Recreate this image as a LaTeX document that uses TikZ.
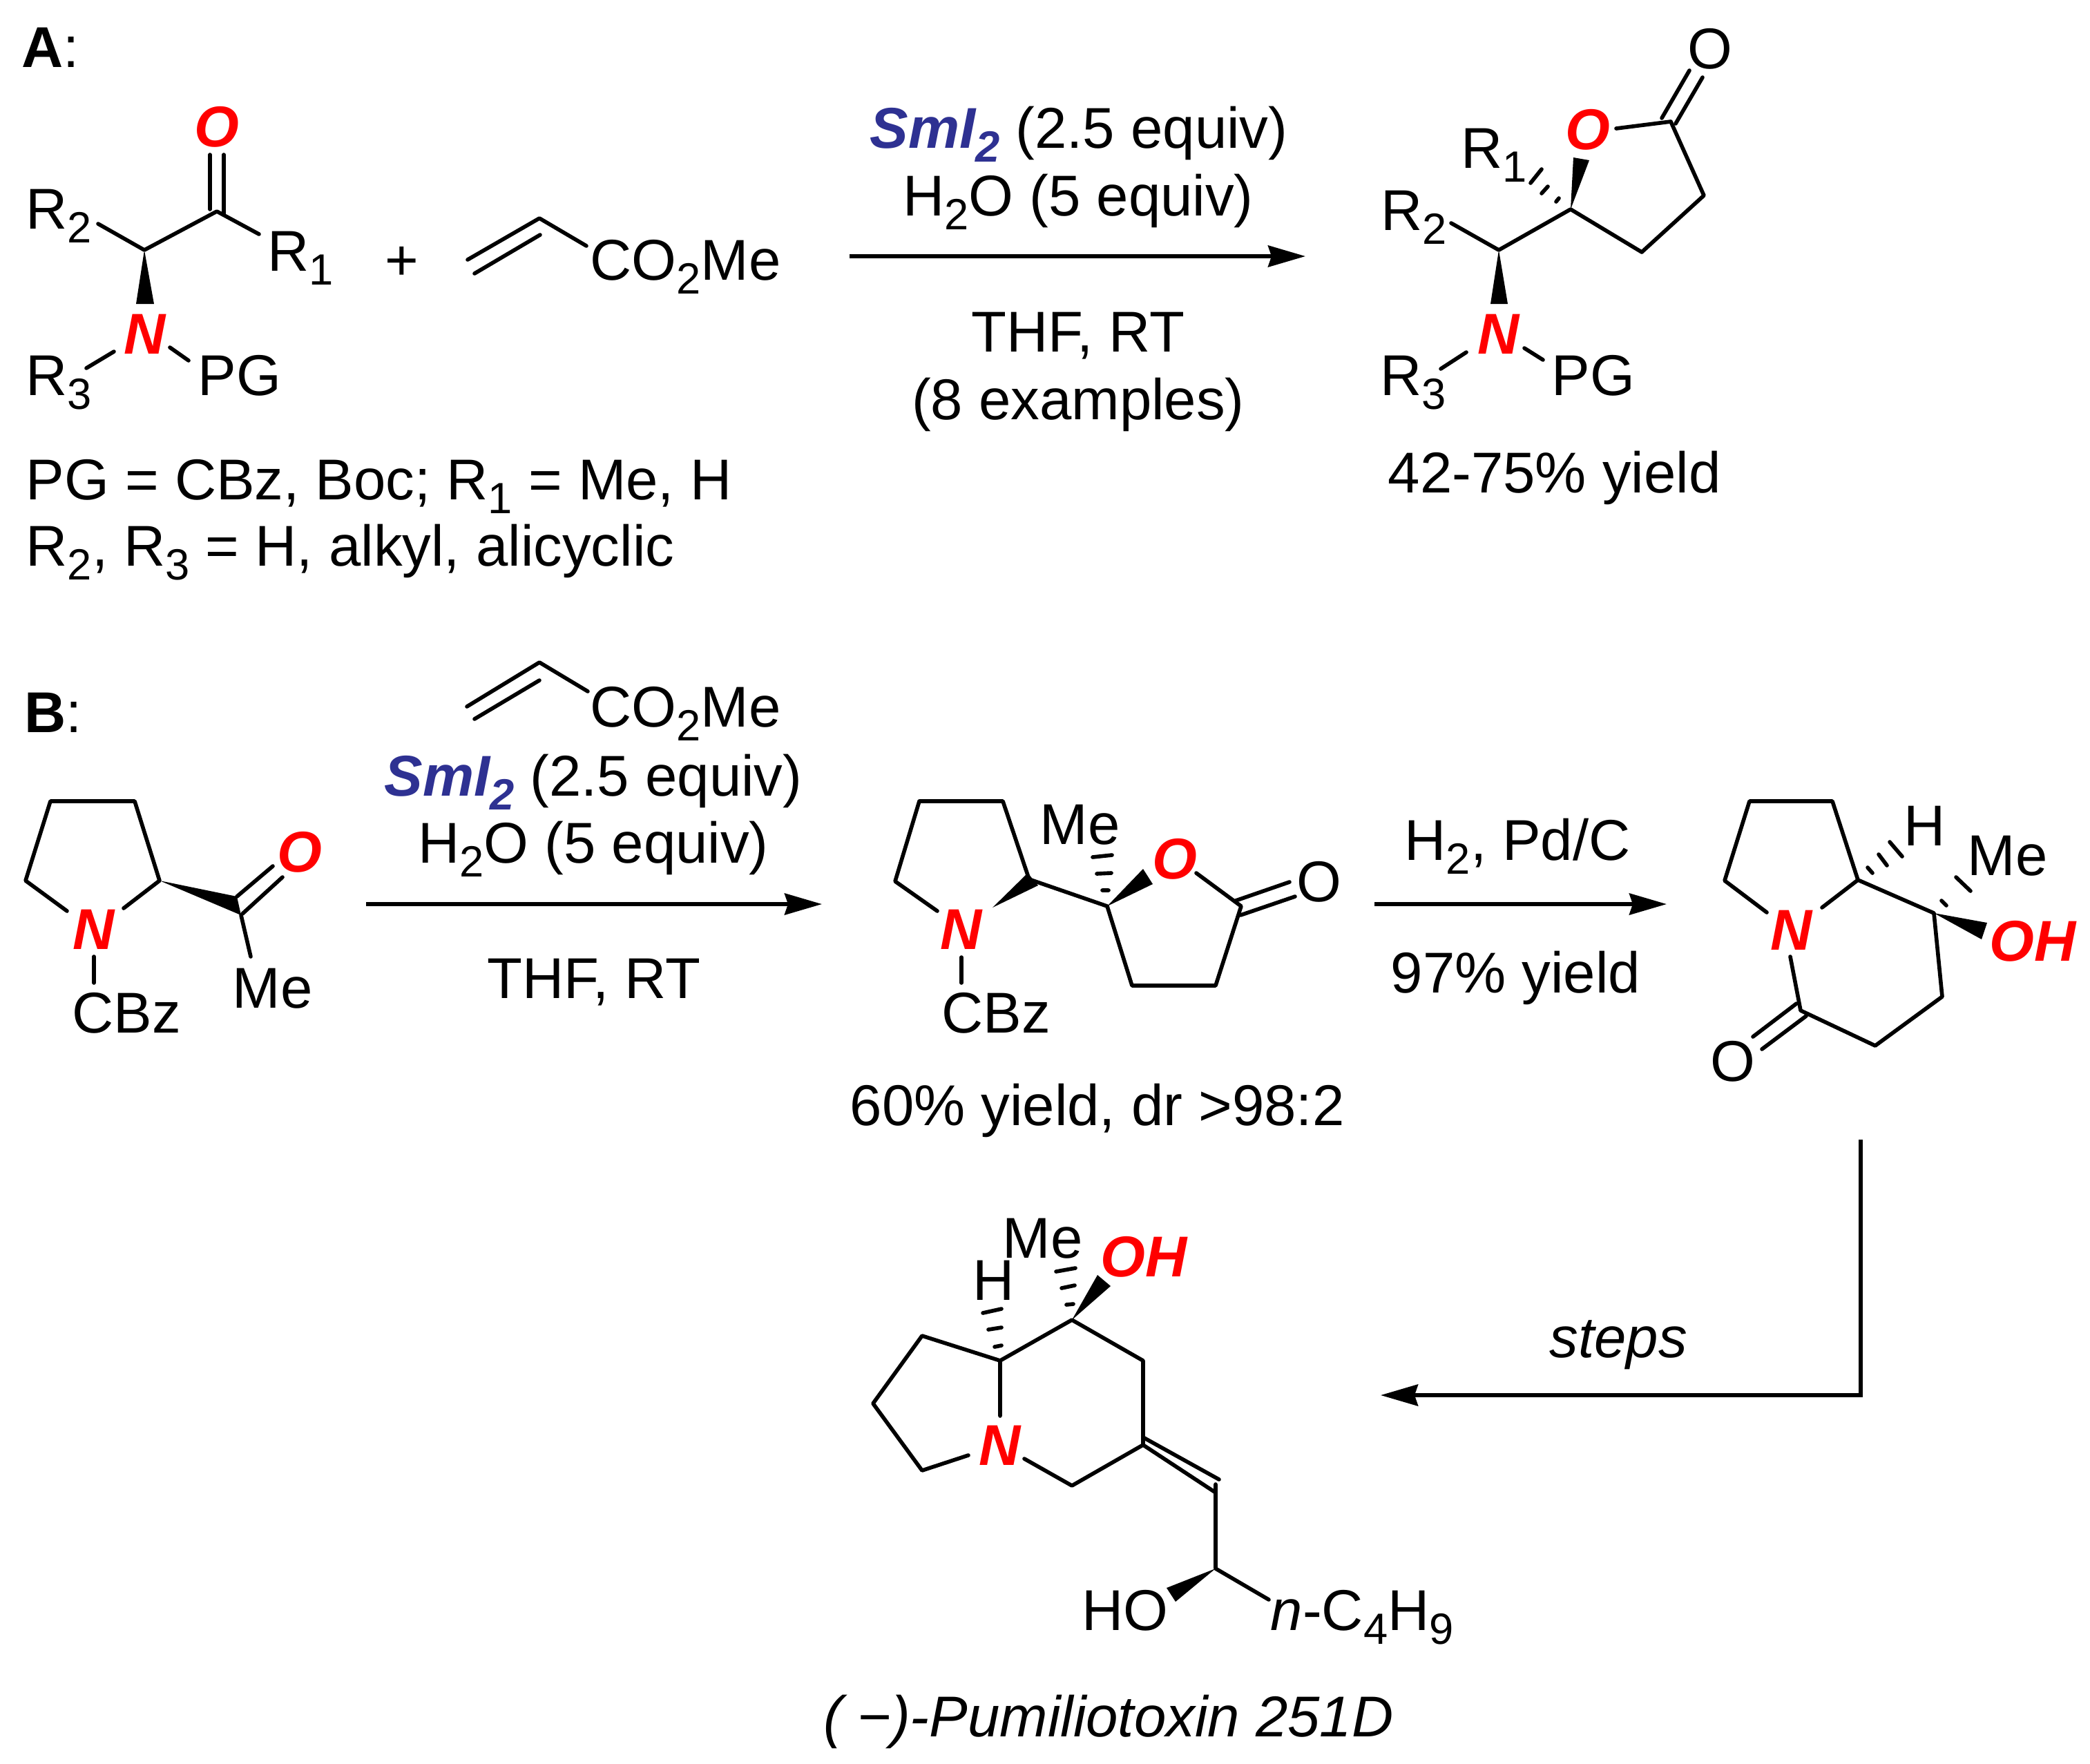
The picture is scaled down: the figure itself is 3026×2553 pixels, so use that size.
\documentclass[tikz,border=0pt]{standalone}
\usepackage{fontspec}
\setmainfont{Liberation Sans}
\usetikzlibrary{arrows.meta}
\definecolor{atomred}{RGB}{255, 0, 0}
\definecolor{smblue}{RGB}{46, 49, 146}
\newcommand{\subsc}[1]{\raisebox{-0.25em}{\fontsize{18}{20}\selectfont #1}}
\newcommand{\atomlbl}[1]{\textcolor{atomred}{\bfseries\itshape #1}}
\newcommand{\smtext}{\textcolor{smblue}{\bfseries\itshape SmI\subsc{2}}}
\tikzset{
  txt/.style={inner sep=0pt, font=\fontsize{23.7}{28}\selectfont},
  lbl/.style={txt, anchor=base west, xshift=-0.05cm},
  ctr/.style={txt, anchor=base},
  bond/.style={line width=1.6pt, line cap=round, line join=round},
  wedge/.style={fill=black, draw=none},
  rxn/.style={line width=1.45pt, -{Stealth[length=0.54cm, width=0.31cm, inset=0.05cm]}}
}

\begin{document}
\begin{tikzpicture}[x=0.01cm, y=-0.01cm]
  \useasboundingbox (0, 0) rectangle (3026, 2553);

  % Panel A: ketone
  \node[lbl] (labelA) at (36, 97) {\textbf{A}:};
  \coordinate (aCO) at (314, 306);
  \coordinate (aCH) at (209, 362);
  \node[ctr] (aO) at (314, 212) {\atomlbl{O}};
  \draw[bond] (304, 224) -- (304, 303) (324, 224) -- (324, 311);
  \node[lbl] (aR2) at (42, 331) {R\subsc{2}};
  \node[lbl] (aR1) at (392, 392) {R\subsc{1}};
  \coordinate (aR2end) at (142, 324);
  \coordinate (aR1end) at (375, 339);
  \draw[bond] (aR2end) -- (aCH) -- (aCO) -- (aR1end);
  \fill[wedge] (aCH) -- (197, 440) -- (223, 440) -- cycle;
  \node[ctr] (aN) at (210, 512) {\atomlbl{N}};
  \draw[bond] (165, 509) -- (125, 533) (246, 503) -- (273, 522);
  \node[lbl] (aR3) at (42, 572) {R\subsc{3}};
  \node[lbl] (aPG) at (291, 572) {PG};

  % Plus and acrylate
  \node[ctr] (plusA) at (582, 405) {+};
  \draw[bond] (677, 376) -- (781, 316) -- (849, 356) (687, 396) -- (782, 340);
  \node[lbl] (acrylA) at (859, 405) {CO\subsc{2}Me};

  % Definitions under the ketone
  \node[lbl] (defA) at (42, 723) {PG = CBz, Boc; R\subsc{1} = Me, H};
  \node[lbl] (defB) at (42, 819) {R\subsc{2}, R\subsc{3} = H, alkyl, alicyclic};

  % Conditions A
  \node[ctr] (smA) at (1562, 214) {\smtext{} (2.5 equiv)};
  \node[ctr] (waterA) at (1561, 312) {H\subsc{2}O (5 equiv)};
  \node[ctr] (thfA) at (1561, 509) {THF, RT};
  \node[ctr] (exA) at (1561, 607) {(8 examples)};
  \coordinate (arrAs) at (1230, 371);
  \coordinate (arrAe) at (1890, 371);
  \draw[rxn] (arrAs) -- (arrAe);

  % Lactone product
  \coordinate (pCO) at (2419, 176);
  \coordinate (pC3) at (2467, 283);
  \coordinate (pC4) at (2377, 365);
  \coordinate (pSp) at (2274, 303);
  \coordinate (pCH) at (2170, 362);
  \node[ctr] (pO1) at (2476, 99) {O};
  \node[ctr] (pO2) at (2299, 216) {\atomlbl{O}};
  \draw[bond] (2406, 171) -- (2446, 102) (2426, 179) -- (2465, 112);
  \draw[bond] (2340, 186) -- (pCO) -- (pC3) -- (pC4) -- (pSp) -- (pCH) -- (2101, 323);
  \fill[wedge] (pSp) -- (2278, 228) -- (2301, 232) -- cycle;
  \draw[bond] (2253, 292) -- (2257, 287) (2232, 280) -- (2241, 270) (2216, 265) -- (2232, 245);
  \fill[wedge] (pCH) -- (2158, 440) -- (2183, 440) -- cycle;
  \node[lbl] (pR1) at (2120, 243) {R\subsc{1}};
  \node[lbl] (pR2) at (2004, 333) {R\subsc{2}};
  \node[ctr] (pN) at (2170, 512) {\atomlbl{N}};
  \draw[bond] (2123, 510) -- (2086, 534) (2207, 504) -- (2234, 521);
  \node[lbl] (pR3) at (2003, 572) {R\subsc{3}};
  \node[lbl] (pPG) at (2251, 572) {PG};
  \node[lbl] (yieldA) at (2014, 713) {42-75\% yield};

  % Panel B: pyrrolidine ketone
  \node[lbl] (labelB) at (40, 1060) {\textbf{B}:};
  \coordinate (bC2) at (231, 1275);
  \coordinate (bCO) at (349, 1325);
  \draw[bond] (97, 1319) -- (37, 1275) -- (73, 1160) -- (195, 1160) -- (bC2) -- (179, 1315);
  \fill[wedge] (bC2) -- (343, 1298) -- (bCO) -- cycle;
  \draw[bond] (343, 1298) -- (395, 1254) (351, 1323) -- (409, 1270);
  \draw[bond] (bCO) -- (363, 1385);
  \node[ctr] (bO) at (434, 1262) {\atomlbl{O}};
  \node[ctr] (bN) at (136, 1374) {\atomlbl{N}};
  \draw[bond] (136, 1385) -- (136, 1423);
  \node[lbl] (bCBz) at (109, 1495) {CBz};
  \node[lbl] (bMe) at (341, 1459) {Me};

  % Conditions B
  \draw[bond] (676, 1023) -- (781, 959) -- (851, 1001) (687, 1041) -- (781, 985);
  \node[lbl] (acrylB) at (859, 1052) {CO\subsc{2}Me};
  \node[ctr] (smB) at (859, 1152) {\smtext{} (2.5 equiv)};
  \node[ctr] (waterB) at (859, 1249) {H\subsc{2}O (5 equiv)};
  \node[ctr] (thfB) at (860, 1445) {THF, RT};
  \coordinate (arrBs) at (530, 1309);
  \coordinate (arrBe) at (1190, 1309);
  \draw[rxn] (arrBs) -- (arrBe);

  % Spiro-type lactone
  \coordinate (cC2) at (1490, 1273);
  \coordinate (cSp) at (1603, 1312);
  \coordinate (cCO) at (1797, 1312);
  \draw[bond] (1357, 1319) -- (1296, 1276) -- (1331, 1160) -- (1452, 1160) -- (cC2) -- (cSp) -- (1639, 1427) -- (1760, 1427) -- (cCO) -- (1732, 1264);
  \fill[wedge] (1437, 1314) -- (1488, 1264) -- (1503, 1282) -- cycle;
  \fill[wedge] (cSp) -- (1655, 1258) -- (1669, 1280) -- cycle;
  \draw[bond] (1582, 1241) -- (1610, 1238) (1588, 1265) -- (1609, 1264) (1596, 1289) -- (1605, 1289);
  \draw[bond] (1789, 1304) -- (1867, 1277) (1796, 1325) -- (1875, 1298);
  \node[ctr] (cN) at (1392, 1374) {\atomlbl{N}};
  \node[ctr] (cO1) at (1701, 1272) {\atomlbl{O}};
  \node[ctr] (cO2) at (1910, 1305) {O};
  \node[lbl] (cMe) at (1510, 1222) {Me};
  \draw[bond] (1392, 1386) -- (1392, 1423);
  \node[lbl] (cCBz) at (1368, 1495) {CBz};
  \node[lbl] (yieldB) at (1235, 1629) {60\% yield, dr >98:2};

  % Hydrogenation
  \node[lbl] (hydro) at (2038, 1245) {H\subsc{2}, Pd/C};
  \node[lbl] (yieldC) at (2018, 1437) {97\% yield};
  \coordinate (arrCs) at (1990, 1309);
  \coordinate (arrCe) at (2413, 1309);
  \draw[rxn] (arrCs) -- (arrCe);

  % Bicyclic lactam
  \coordinate (dC8a) at (2690, 1274);
  \coordinate (dC8) at (2800, 1322);
  \coordinate (dC5) at (2607, 1463);
  \draw[bond] (2558, 1321) -- (2497, 1275) -- (2533, 1160) -- (2653, 1160) -- (dC8a) -- (2638, 1314);
  \draw[bond] (dC8a) -- (dC8) -- (2812, 1443) -- (2715, 1514) -- (dC5) -- (2592, 1385);
  \draw[bond] (2601, 1453) -- (2538, 1501) (2615, 1471) -- (2551, 1519);
  \draw[bond] (2704, 1256) -- (2711, 1264) (2720, 1237) -- (2732, 1253) (2736, 1219) -- (2754, 1240);
  \draw[bond] (2811, 1304) -- (2818, 1311) (2832, 1270) -- (2853, 1290);
  \fill[wedge] (dC8) -- (2877, 1336) -- (2869, 1360) -- cycle;
  \node[ctr] (dN) at (2594, 1375) {\atomlbl{N}};
  \node[ctr] (dO) at (2509, 1565) {O};
  \node[lbl] (dH) at (2761, 1224) {H};
  \node[lbl] (dMe) at (2853, 1267) {Me};
  \node[lbl] (dOH) at (2885, 1391) {\atomlbl{OH}};

  % Steps arrow
  \coordinate (arrDs) at (2694, 1650);
  \coordinate (arrDm) at (2694, 2020);
  \coordinate (arrDe) at (1999, 2020);
  \draw[rxn] (arrDs) -- (arrDm) -- (arrDe);
  \node[lbl] (steps) at (2248, 1965) {\textit{steps}};

  % Pumiliotoxin
  \coordinate (eC8a) at (1448, 1970);
  \coordinate (eC8) at (1552, 1911);
  \coordinate (eC6) at (1655, 2092);
  \coordinate (eVin) at (1760, 2161);
  \coordinate (eOH) at (1760, 2271);
  \draw[bond] (1402, 2107) -- (1335, 2129) -- (1264, 2032) -- (1335, 1934) -- (eC8a) -- (1448, 2050);
  \draw[bond] (eC8a) -- (eC8) -- (1655, 1970) -- (eC6) -- (1552, 2151) -- (1483, 2112);
  \draw[bond] (eC6) -- (eVin) (1655, 2081) -- (1765, 2142);
  \draw[bond] (1760, 2149) -- (eOH) -- (1837, 2316);
  \fill[wedge] (eOH) -- (1689, 2299) -- (1702, 2319) -- cycle;
  \fill[wedge] (eC8) -- (1589, 1846) -- (1608, 1862) -- cycle;
  \draw[bond] (1423, 1901) -- (1450, 1895) (1431, 1925) -- (1450, 1922) (1440, 1950) -- (1450, 1948);
  \draw[bond] (1529, 1841) -- (1557, 1836) (1537, 1865) -- (1556, 1861) (1544, 1889) -- (1554, 1888);
  \node[ctr] (eN) at (1448, 2121) {\atomlbl{N}};
  \node[lbl] (eH) at (1413, 1882) {H};
  \node[lbl] (eMe) at (1456, 1821) {Me};
  \node[lbl] (eOHl) at (1598, 1848) {\atomlbl{OH}};
  \node[lbl] (eHO) at (1571, 2360) {HO};
  \node[lbl] (eBu) at (1844, 2360) {\textit{n}-C\subsc{4}H\subsc{9}};
  \node[lbl] (name) at (1197, 2514) {\textit{(\hspace{6pt}−)-Pumiliotoxin 251D}};
\end{tikzpicture}
\end{document}
